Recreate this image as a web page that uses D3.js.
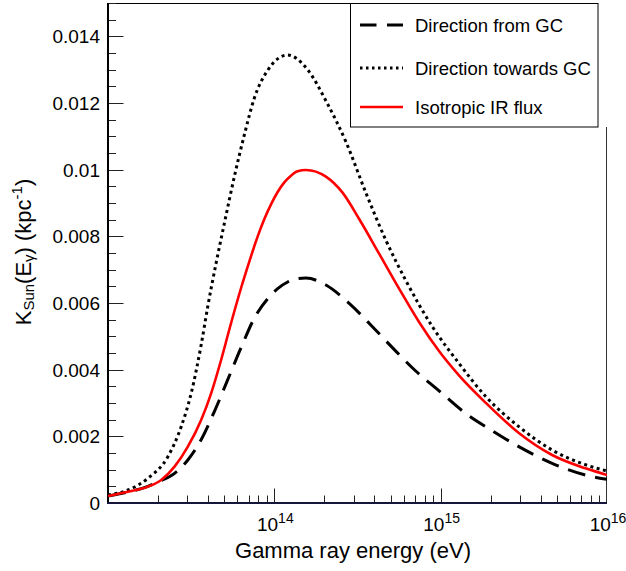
<!DOCTYPE html>
<html><head><meta charset="utf-8">
<script src="https://cdn.jsdelivr.net/npm/d3@7"></script>
<style>
html,body{margin:0;padding:0;background:#fff;}
svg{display:block;font-family:"Liberation Sans",Arial,Helvetica,sans-serif;}
</style></head>
<body>
<svg id="chart" width="626" height="571"></svg>
<script>
// ---- data (log10 of gamma-ray energy in eV, K_Sun in kpc^-1) ----
const towardsLogE = [13.00,13.12,13.24,13.36,13.44,13.50,13.56,13.60,13.65,13.70,13.76,13.82,13.88,13.96,14.08,14.20,14.315,14.43,14.55,14.67,14.79,14.95,15.11,15.27,15.47,15.67,15.87,16.00];
const towardsK    = [0.00024,0.00039,0.00074,0.00139,0.00229,0.00329,0.00474,0.00590,0.00720,0.00840,0.00980,0.01105,0.01215,0.01298,0.01344,0.01300,0.01202,0.01084,0.00931,0.00789,0.00668,0.00529,0.00419,0.00320,0.00229,0.00159,0.00115,0.00096];

const isoLogE = [13.00,13.12,13.24,13.32,13.40,13.48,13.56,13.62,13.68,13.74,13.80,13.85,13.90,13.94,13.98,14.02,14.06,14.10,14.14,14.19,14.31,14.41,14.51,14.63,14.75,14.87,14.99,15.11,15.27,15.47,15.67,15.87,16.00];
const isoK    = [0.00021,0.00034,0.00049,0.00069,0.00109,0.00169,0.00249,0.00329,0.00429,0.00540,0.00645,0.00725,0.00800,0.00852,0.00896,0.00933,0.00962,0.00982,0.00995,0.00999,0.00979,0.00931,0.00852,0.00748,0.00643,0.00543,0.00456,0.00383,0.00301,0.00210,0.00144,0.00104,0.00084];

const fromLogE = [13.00,13.12,13.24,13.30,13.40,13.48,13.56,13.64,13.72,13.80,13.88,13.96,14.02,14.08,14.14,14.19,14.31,14.45,14.59,14.71,14.85,14.98,15.15,15.31,15.47,15.67,15.87,16.00];
const fromK    = [0.00021,0.00033,0.00050,0.00063,0.00089,0.00129,0.00190,0.00275,0.00370,0.00466,0.00555,0.00613,0.00643,0.00663,0.00673,0.00675,0.00654,0.00599,0.00529,0.00466,0.00396,0.00341,0.00269,0.00217,0.00169,0.00119,0.00084,0.00071];

const yTickValues = [0,0.002,0.004,0.006,0.008,0.01,0.012,0.014];
const yTickLabels = ["0","0.002","0.004","0.006","0.008","0.01","0.012","0.014"];
const xLabelExps  = [14,15,16];
const legendLabels = ["Direction from GC","Direction towards GC","Isotropic IR flux"];

// ---- layout ----
const L = 108, R = 607, T = 3, B = 503;
const svg = d3.select("#chart");
const x = d3.scaleLog().domain([1e13,1e16]).range([L,R]);
const y = d3.scaleLinear().domain([0,0.015]).range([B,T]);

svg.append("clipPath").attr("id","pc").append("rect")
  .attr("x",L).attr("y",T).attr("width",R-L).attr("height",B-T);

// frame pieces
svg.append("line").attr("x1",L).attr("x2",350).attr("y1",T+0.5).attr("y2",T+0.5).attr("stroke","#000").attr("stroke-width",1);
svg.append("line").attr("x1",R-0.5).attr("x2",R-0.5).attr("y1",127).attr("y2",B).attr("stroke","#333").attr("stroke-width",1);

// y ticks
const yMinor = d3.range(0,0.01501,0.0005);
const yg = svg.append("g");
yMinor.forEach(v=>{
  const isMajor = yTickValues.some(t=>Math.abs(t-v)<1e-9);
  yg.append("line").attr("x1",L).attr("x2",L+(isMajor?15.5:8))
    .attr("y1",Math.round(y(v))+0.5).attr("y2",Math.round(y(v))+0.5)
    .attr("stroke","#222").attr("stroke-width",1);
});
yTickValues.forEach((v,i)=>{
  yg.append("text").attr("x",100).attr("y",y(v)).attr("dy","0.36em")
    .attr("text-anchor","end").attr("font-size",19).attr("fill","#000").text(yTickLabels[i]);
});

// x ticks
const xg = svg.append("g");
x.ticks().forEach(v=>{
  const lg = Math.log10(v);
  const isMajor = Math.abs(lg-Math.round(lg))<1e-9;
  if (v>=1e16 || v<=1e13) return;
  xg.append("line").attr("x1",Math.round(x(v))+0.5).attr("x2",Math.round(x(v))+0.5)
    .attr("y1",B).attr("y2",B-(isMajor?14.5:7.5))
    .attr("stroke","#222").attr("stroke-width",1);
});
xLabelExps.forEach(e=>{
  const t = xg.append("text").attr("x",x(Math.pow(10,e))+1).attr("y",531)
    .attr("text-anchor","middle").attr("font-size",19).attr("fill","#000");
  t.append("tspan").text("10");
  t.append("tspan").attr("font-size",14).attr("dy",-8.5).text(String(e));
});

// axis lines
svg.append("line").attr("x1",L).attr("x2",L).attr("y1",T).attr("y2",B+1).attr("stroke","#000").attr("stroke-width",2);
svg.append("line").attr("x1",L-1).attr("x2",R).attr("y1",B).attr("y2",B).attr("stroke","#16163a").attr("stroke-width",2);

// curves
const line = d3.line().x(d=>x(Math.pow(10,d[0]))).y(d=>y(d[1])).curve(d3.curveMonotoneX);
const cg = svg.append("g").attr("clip-path","url(#pc)");
const series = [
  {le:fromLogE, k:fromK, stroke:"#000", dash:"18,10", w:3},
  {le:towardsLogE, k:towardsK, stroke:"#000", dash:"3,3.5", w:3},
  {le:isoLogE, k:isoK, stroke:"#ff0000", dash:null, w:2.6}
];
series.forEach(s=>{
  const p = cg.append("path").datum(d3.zip(s.le,s.k)).attr("d",line)
    .attr("fill","none").attr("stroke",s.stroke).attr("stroke-width",s.w);
  if (s.dash) p.attr("stroke-dasharray",s.dash);
});

// legend
const lg = svg.append("g");
lg.append("rect").attr("x",350.5).attr("y",3.5).attr("width",247.5).attr("height",123.5)
  .attr("fill","#fff").attr("stroke","#000").attr("stroke-width",1);
const legY = [25,68,107];
series.forEach((s,i)=>{
  const ln = lg.append("line").attr("x1",360).attr("x2",403).attr("y1",legY[i]).attr("y2",legY[i])
    .attr("stroke",s.stroke).attr("stroke-width",s.w);
  if (i===0) ln.attr("stroke-dasharray","16.5,10.5");
  if (i===1) ln.attr("stroke-dasharray","2.5,3.5");
  lg.append("text").attr("x",415).attr("y",legY[i]).attr("dy","0.36em")
    .attr("font-size",18.5).attr("fill","#000").text(legendLabels[i]);
});

// axis titles
svg.append("text").attr("x",353).attr("y",558).attr("text-anchor","middle")
  .attr("font-size",22).attr("fill","#000").text("Gamma ray energy (eV)");

const yt = svg.append("text").attr("transform","translate(31,252) rotate(-90)")
  .attr("text-anchor","middle").attr("font-size",22).attr("fill","#000");
yt.append("tspan").text("K");
yt.append("tspan").attr("font-size",15).attr("dy",3).text("Sun");
yt.append("tspan").attr("dy",-3).text("(E");
yt.append("tspan").attr("font-size",15).attr("dy",3).text("γ");
yt.append("tspan").attr("dy",-3).text(")\u00a0(kpc");
yt.append("tspan").attr("font-size",15).attr("dy",-9).text("-1");
yt.append("tspan").attr("dy",9).text(")");
</script>
</body></html>
